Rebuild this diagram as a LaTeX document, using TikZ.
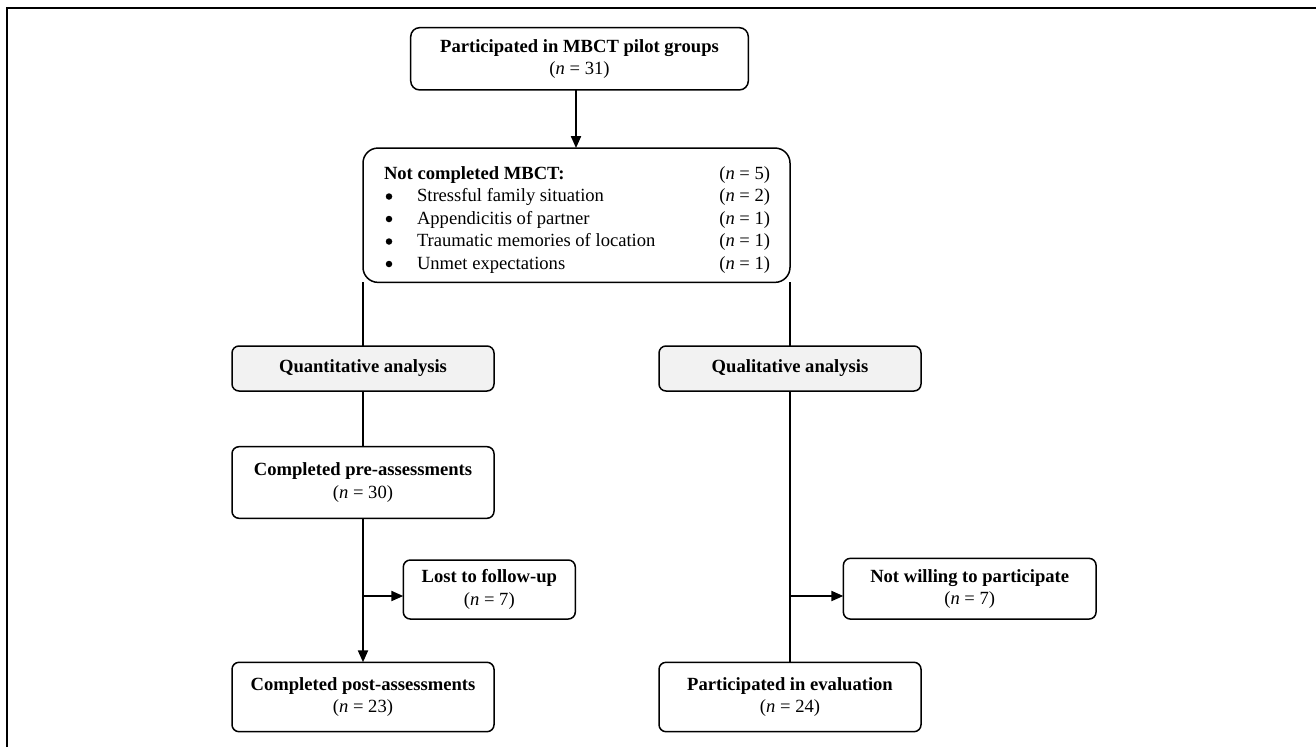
\documentclass[tikz,border=0pt]{standalone}
\usepackage{fontspec}
\setmainfont{Liberation Serif}
\usetikzlibrary{arrows.meta}
\tikzset{
  base/.style={font=\fontsize{18.6}{22.3}\selectfont},
  box/.style={base, draw=black, line width=1.5pt, rounded corners=7pt, rectangle, inner sep=0pt, outer sep=0pt, align=center},
  graybox/.style={box, fill=boxgray},
  conn/.style={line width=1.2pt},
  arr/.style={line width=2pt, -{Triangle[length=12pt,width=10pt]}},
  txt/.style={base, inner sep=0pt, outer sep=0pt, anchor=base west},
  bul/.style={circle, fill=black, inner sep=0pt, minimum size=6.5pt},
}
\definecolor{boxgray}{HTML}{F2F2F2}
\begin{document}
\begin{tikzpicture}[x=1pt,y=-1pt]
\useasboundingbox (0,0) rectangle (1316,747);
% frame
\draw[line width=2pt] (7,747) -- (7,8) -- (1316,8);

\node[box, rounded corners=9pt, minimum width=337.6pt, minimum height=62.3pt] (top) at (579.5,58.8)
  {\textbf{Participated in MBCT pilot groups}\\(\textit{n} = 31)};

\node[box, rounded corners=15pt, minimum width=427pt, minimum height=134.3pt] (mid) at (576.5,215.2) {};
\node[txt] (h0) at (384,179) {\textbf{Not completed MBCT:}};
\node[txt] (n0) at (719.3,179) {(\textit{n} = 5)};
\node[bul] (b1) at (389,196.5) {};
\node[txt] (t1) at (417,201.5) {Stressful family situation};
\node[txt] (n1) at (719.3,201.5) {(\textit{n} = 2)};
\node[bul] (b2) at (389,219) {};
\node[txt] (t2) at (417,224) {Appendicitis of partner};
\node[txt] (n2) at (719.3,224) {(\textit{n} = 1)};
\node[bul] (b3) at (389,241.5) {};
\node[txt] (t3) at (417,246.5) {Traumatic memories of location};
\node[txt] (n3) at (719.3,246.5) {(\textit{n} = 1)};
\node[bul] (b4) at (389,264) {};
\node[txt] (t4) at (417,269) {Unmet expectations};
\node[txt] (n4) at (719.3,269) {(\textit{n} = 1)};

\node[graybox, minimum width=262pt, minimum height=45pt] (quant) at (363,368.5) {\textbf{Quantitative analysis}};
\node[graybox, minimum width=262pt, minimum height=45pt] (qual) at (790,368.5) {\textbf{Qualitative analysis}};

\node[box, minimum width=262pt, minimum height=71.6pt] (pre) at (363,482.5)
  {\textbf{Completed pre-assessments}\\(\textit{n} = 30)};
\node[box, minimum width=262pt, minimum height=69.4pt] (post) at (363,697)
  {\textbf{Completed post-assessments}\\(\textit{n} = 23)};
\node[box, minimum width=172pt, minimum height=59pt] (lost) at (489.3,589.5)
  {\textbf{Lost to follow-up}\\(\textit{n} = 7)};

\node[box, minimum width=252.7pt, minimum height=60.7pt] (notw) at (969.7,588.7)
  {\textbf{Not willing to participate}\\(\textit{n} = 7)};
\node[box, minimum width=262pt, minimum height=69.4pt] (eval) at (790,697)
  {\textbf{Participated in evaluation}\\(\textit{n} = 24)};

% connectors
\draw[arr] (top.south -| 576,0) -- (mid.north -| 576,0);
\draw[conn] (mid.south west) -- (quant.north);
\draw[conn] (mid.south east) -- (qual.north);
\draw[conn] (quant.south) -- (pre.north);
\draw[arr] (pre.south) -- (post.north);
\coordinate (jl) at (363,596);
\draw[arr] (jl) -- (jl -| lost.west);
\draw[conn] (qual.south) -- (eval.north);
\coordinate (jr) at (790,596);
\draw[arr] (jr) -- (jr -| notw.west);
\end{tikzpicture}
\end{document}
